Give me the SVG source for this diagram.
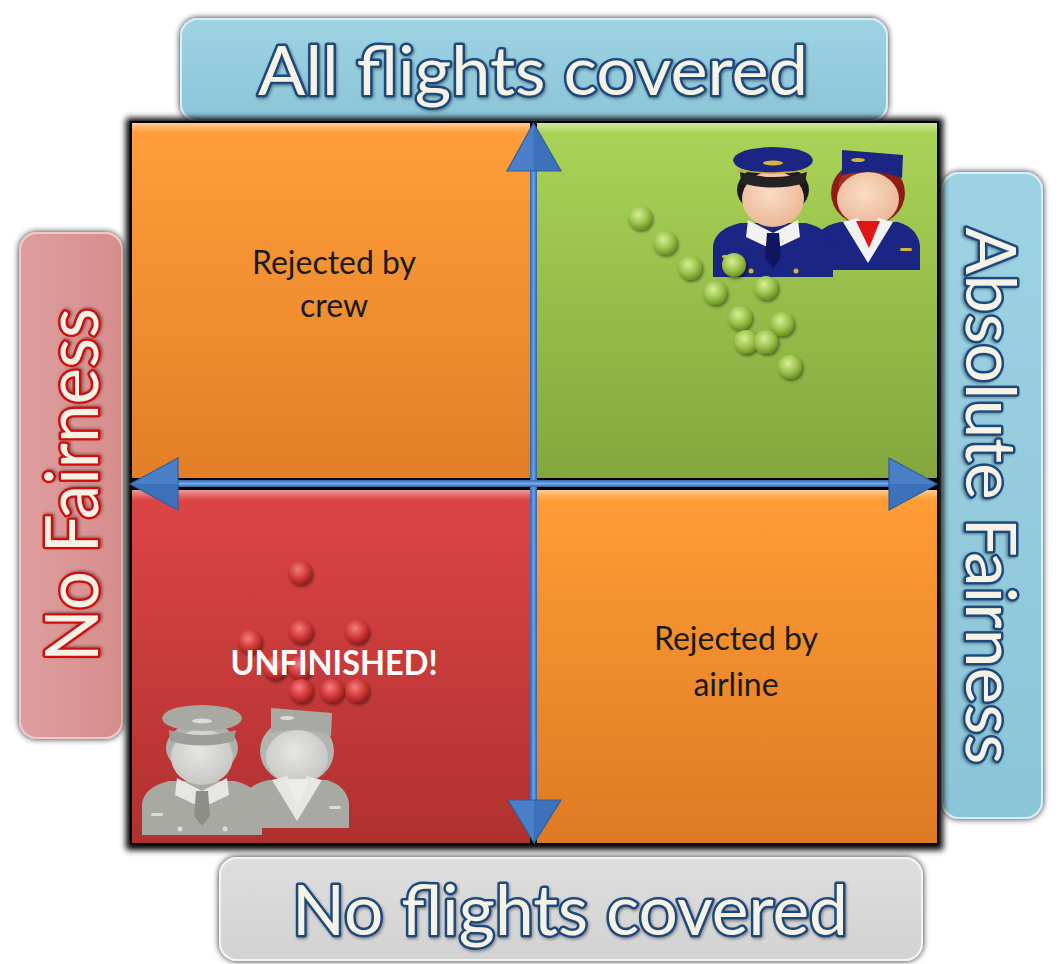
<svg xmlns="http://www.w3.org/2000/svg" width="1063" height="964" viewBox="0 0 1063 964">
<defs>
<style>
.lbl{font-family:Lato,"Open Sans","Liberation Sans",sans-serif;fill:#F6F3E6;stroke-width:5;paint-order:stroke;stroke-linejoin:round}
.blue{stroke:#1F497D}
.redt{stroke:#D01010}
.qt{font-family:Lato,"Open Sans","Liberation Sans",sans-serif;font-size:32px;fill:#1a1a1a;text-anchor:middle}
.unf{font-family:Lato,"Open Sans","Liberation Sans",sans-serif;font-size:35px;font-weight:bold;fill:#ffffff;text-anchor:middle}
.arrow{fill:#4A80C8;stroke:#2E5D9E;stroke-width:1.2}
.ashade{fill:#2F62A8;opacity:0.45}
.gb{fill:url(#gball)}
.rb{fill:url(#rball)}
.navy{fill:#1B2583}
.navyd{fill:#0F1660}
.white{fill:#F2F2F2}
.gold{fill:#D4B43A}
.face{fill:url(#face)}
.gnavy{fill:#A9A9A4}
.gnavyd{fill:#8E8E89}
.gwhite{fill:#E6E6E3}
.ggold{fill:#DCDCD8}
.gface{fill:url(#gface)}
</style>
<linearGradient id="gOrange" x1="0" y1="0" x2="0" y2="1"><stop offset="0" stop-color="#FF9E3A"/><stop offset="1" stop-color="#E27F27"/></linearGradient>
<linearGradient id="gOrange2" x1="0" y1="0" x2="0" y2="1"><stop offset="0" stop-color="#FF9D35"/><stop offset="1" stop-color="#DE7A24"/></linearGradient>
<linearGradient id="gGreen" x1="0" y1="0" x2="0" y2="1"><stop offset="0" stop-color="#AAD457"/><stop offset="1" stop-color="#83A73D"/></linearGradient>
<linearGradient id="gRed" x1="0" y1="0" x2="0" y2="1"><stop offset="0" stop-color="#DE4545"/><stop offset="1" stop-color="#B03030"/></linearGradient>
<linearGradient id="bevel" x1="0" y1="0" x2="0" y2="1"><stop offset="0" stop-color="#ffffff" stop-opacity="0.45"/><stop offset="1" stop-color="#ffffff" stop-opacity="0"/></linearGradient>
<linearGradient id="gBlue" x1="0" y1="0" x2="0" y2="1"><stop offset="0" stop-color="#9DD3E3"/><stop offset="1" stop-color="#8BC5D8"/></linearGradient>
<linearGradient id="gPink" x1="0" y1="0" x2="1" y2="0"><stop offset="0" stop-color="#DE9E9E"/><stop offset="1" stop-color="#D68D8C"/></linearGradient>
<linearGradient id="gGray" x1="0" y1="0" x2="0" y2="1"><stop offset="0" stop-color="#DEDEDE"/><stop offset="1" stop-color="#D2D2D2"/></linearGradient>
<linearGradient id="shaftV" x1="0" y1="0" x2="1" y2="0"><stop offset="0" stop-color="#2F64AD"/><stop offset="0.5" stop-color="#6FA0E0"/><stop offset="1" stop-color="#2F64AD"/></linearGradient>
<linearGradient id="shaftH" x1="0" y1="0" x2="0" y2="1"><stop offset="0" stop-color="#2F64AD"/><stop offset="0.5" stop-color="#7AAAE6"/><stop offset="1" stop-color="#2F64AD"/></linearGradient>
<radialGradient id="gball" cx="0.42" cy="0.35" r="0.65"><stop offset="0" stop-color="#D6EF94"/><stop offset="0.6" stop-color="#9CC24C"/><stop offset="1" stop-color="#6C9224"/></radialGradient>
<radialGradient id="rball" cx="0.42" cy="0.35" r="0.65"><stop offset="0" stop-color="#F47E7E"/><stop offset="0.6" stop-color="#D23A3A"/><stop offset="1" stop-color="#9C1E1E"/></radialGradient>
<radialGradient id="face" cx="0.45" cy="0.4" r="0.65"><stop offset="0" stop-color="#FBDCC6"/><stop offset="1" stop-color="#E9B592"/></radialGradient>
<radialGradient id="gface" cx="0.45" cy="0.4" r="0.65"><stop offset="0" stop-color="#E6E6E4"/><stop offset="1" stop-color="#C4C4C1"/></radialGradient>
<filter id="shadow" x="-10%" y="-10%" width="120%" height="120%"><feDropShadow dx="0" dy="0" stdDeviation="3" flood-color="#000" flood-opacity="0.85"/></filter>
<filter id="blur4" x="-10%" y="-10%" width="120%" height="120%"><feGaussianBlur stdDeviation="3"/></filter>
<filter id="bshadow" x="-50%" y="-50%" width="200%" height="200%"><feDropShadow dx="1.5" dy="2" stdDeviation="1.5" flood-color="#000" flood-opacity="0.45"/></filter>
<filter id="tglow" x="-5%" y="-20%" width="110%" height="140%"><feDropShadow dx="1" dy="1.5" stdDeviation="1.5" flood-color="#000" flood-opacity="0.4"/></filter>
</defs>

<g id="label-top" filter="url(#shadow)">
<rect x="181" y="19" width="706" height="102" rx="17" fill="url(#gBlue)" stroke="#D6EEF5" stroke-width="2"/>
<text class="lbl blue" x="533" y="95" font-size="68" text-anchor="middle" textLength="550" lengthAdjust="spacingAndGlyphs" filter="url(#tglow)">All flights covered</text>
</g>

<g id="label-left" filter="url(#shadow)">
<rect x="20" y="233" width="102" height="505" rx="17" fill="url(#gPink)" stroke="#F0C8C8" stroke-width="2"/>
<text class="lbl redt" x="98" y="485" font-size="74" text-anchor="middle" textLength="354" lengthAdjust="spacingAndGlyphs" transform="rotate(-90 98 485)" filter="url(#tglow)">No Fairness</text>
</g>

<g id="label-right" filter="url(#shadow)">
<rect x="942" y="173" width="100" height="645" rx="17" fill="url(#gBlue)" stroke="#D6EEF5" stroke-width="2"/>
<text class="lbl blue" x="966" y="496" font-size="70" text-anchor="middle" textLength="537" lengthAdjust="spacingAndGlyphs" transform="rotate(90 966 496)" filter="url(#tglow)">Absolute Fairness</text>
</g>

<g id="label-bottom" filter="url(#shadow)">
<rect x="220" y="858" width="702" height="102" rx="17" fill="url(#gGray)" stroke="#F4F4F4" stroke-width="2"/>
<text class="lbl blue" x="570" y="935" font-size="69" text-anchor="middle" textLength="556" lengthAdjust="spacingAndGlyphs" filter="url(#tglow)">No flights covered</text>
</g>

<g id="grid-shadow">
<rect x="126" y="118" width="817" height="732" fill="#000" filter="url(#blur4)"/>
<rect x="130" y="121" width="809" height="724" fill="#000"/>
</g>

<g id="q-top-left">
<rect x="132" y="123" width="398" height="355" fill="url(#gOrange)"/>
<rect x="132" y="123" width="398" height="10" fill="url(#bevel)"/>
<text class="qt" x="334" y="274">Rejected by</text>
<text class="qt" x="334" y="317">crew</text>
</g>

<g id="q-top-right">
<rect x="537" y="123" width="400" height="355" fill="url(#gGreen)"/>
<rect x="537" y="123" width="400" height="10" fill="url(#bevel)"/>
</g>

<g id="q-bottom-left">
<rect x="132" y="490" width="398" height="353" fill="url(#gRed)"/>
<rect x="132" y="490" width="398" height="10" fill="url(#bevel)"/>
</g>

<g id="q-bottom-right">
<rect x="537" y="490" width="400" height="353" fill="url(#gOrange2)"/>
<rect x="537" y="490" width="400" height="10" fill="url(#bevel)"/>
<text class="qt" x="736" y="650">Rejected by</text>
<text class="qt" x="736" y="696">airline</text>
</g>

<g id="crew-color">
<g id="stewardess">
<path class="navy" d="M813,270 L813,244 Q816,227 840,222 L898,222 Q918,228 920,246 L920,270 Z"/>
<rect class="gold" x="900" y="248" width="12" height="3" rx="1.5"/>
<ellipse cx="868" cy="193" rx="37" ry="33" fill="#8E1C12"/>
<path d="M838,185 Q845,162 868,160 Q850,170 846,200 Z" fill="#B0382A" opacity="0.7"/>
<rect x="861" y="215" width="14" height="10" fill="#E9B592"/>
<ellipse class="face" cx="868" cy="199" rx="31" ry="27"/>
<path class="navy" d="M842,150 L903,155 L902,178 Q872,168 842,175 Z"/>
<ellipse class="gold" cx="858" cy="160" rx="7" ry="2"/>
<path class="white" d="M843,222 L858,218 L868,240 L878,218 L893,222 L868,263 Z"/>
<path d="M856,221 L880,221 L869,248 Z" fill="#E01515"/>
</g>
<g id="pilot">
<path class="navy" d="M713,277 L713,246 Q715,229 740,223 L806,223 Q830,229 833,246 L833,277 Z"/>
<rect class="gold" x="722" y="255" width="12" height="3" rx="1.5"/>
<circle class="gold" cx="751" cy="271" r="2.5"/>
<circle class="gold" cx="796" cy="271" r="2.5"/>
<ellipse cx="773" cy="190" rx="36" ry="26" fill="#1A1A1A"/>
<rect x="766" y="215" width="14" height="10" fill="#E9B592"/>
<ellipse class="face" cx="773" cy="199" rx="31" ry="28"/>
<path d="M740,172 Q773,182 807,172 L805,183 Q773,192 741,183 Z" fill="#232323"/>
<path class="navy" d="M733,160 Q736,148 773,147 Q810,148 813,160 Q812,172 773,173 Q734,172 733,160 Z"/>
<path d="M738,170 Q773,176 808,170" fill="none" stroke="#C8A83A" stroke-width="1.5"/>
<ellipse class="gold" cx="773" cy="163" rx="10" ry="2.5"/>
<path class="white" d="M748,220 L773,233 L798,220 L800,237 L781,246 L765,246 L746,237 Z"/>
<path class="navyd" d="M767,233 L779,233 L781,258 L773,268 L765,258 Z"/>
</g>
</g>

<g id="crew-gray" transform="translate(-571,558)">
<path class="gnavy" d="M813,270 L813,244 Q816,227 840,222 L898,222 Q918,228 920,246 L920,270 Z"/>
<rect class="ggold" x="900" y="248" width="12" height="3" rx="1.5"/>
<ellipse cx="868" cy="193" rx="37" ry="33" fill="#B4B4B0"/>
<rect x="861" y="215" width="14" height="10" fill="#C4C4C1"/>
<ellipse class="gface" cx="868" cy="199" rx="31" ry="27"/>
<path class="gnavy" d="M842,150 L903,155 L902,178 Q872,168 842,175 Z"/>
<ellipse class="ggold" cx="858" cy="160" rx="7" ry="2"/>
<path class="gwhite" d="M843,222 L858,218 L868,240 L878,218 L893,222 L868,263 Z"/>
<path d="M856,221 L880,221 L869,248 Z" fill="#ECECEA"/>
<path class="gnavy" d="M713,277 L713,246 Q715,229 740,223 L806,223 Q830,229 833,246 L833,277 Z"/>
<rect class="ggold" x="722" y="255" width="12" height="3" rx="1.5"/>
<circle class="ggold" cx="751" cy="271" r="2.5"/>
<circle class="ggold" cx="796" cy="271" r="2.5"/>
<ellipse cx="773" cy="190" rx="36" ry="26" fill="#B0B0AC"/>
<rect x="766" y="215" width="14" height="10" fill="#C4C4C1"/>
<ellipse class="gface" cx="773" cy="199" rx="31" ry="28"/>
<path d="M740,172 Q773,182 807,172 L805,183 Q773,192 741,183 Z" fill="#9C9C98"/>
<path class="gnavy" d="M733,160 Q736,148 773,147 Q810,148 813,160 Q812,172 773,173 Q734,172 733,160 Z"/>
<ellipse class="ggold" cx="773" cy="163" rx="10" ry="2.5"/>
<path class="gwhite" d="M748,220 L773,233 L798,220 L800,237 L781,246 L765,246 L746,237 Z"/>
<path class="gnavyd" d="M767,233 L779,233 L781,258 L773,268 L765,258 Z"/>
</g>

<g id="green-points" filter="url(#bshadow)">
<circle class="gb" cx="640" cy="218" r="12"/>
<circle class="gb" cx="665" cy="243" r="12"/>
<circle class="gb" cx="690" cy="268" r="12"/>
<circle class="gb" cx="734" cy="265" r="12"/>
<circle class="gb" cx="715" cy="293" r="12"/>
<circle class="gb" cx="766" cy="288" r="12"/>
<circle class="gb" cx="740" cy="318" r="12"/>
<circle class="gb" cx="782" cy="324" r="12"/>
<circle class="gb" cx="746" cy="342" r="12"/>
<circle class="gb" cx="766" cy="342" r="12"/>
<circle class="gb" cx="790" cy="367" r="12"/>
</g>

<g id="red-points" filter="url(#bshadow)">
<circle class="rb" cx="300" cy="573" r="12"/>
<circle class="rb" cx="301" cy="632" r="12"/>
<circle class="rb" cx="357" cy="632" r="12"/>
<circle class="rb" cx="250" cy="642" r="12"/>
<circle class="rb" cx="275" cy="668" r="12"/>
<circle class="rb" cx="300" cy="668" r="12"/>
<circle class="rb" cx="301" cy="691" r="12"/>
<circle class="rb" cx="332" cy="691" r="12"/>
<circle class="rb" cx="357" cy="691" r="12"/>
</g>

<g id="unfinished">
<text class="unf" x="334" y="675" textLength="207" lengthAdjust="spacingAndGlyphs">UNFINISHED!</text>
</g>

<g id="connectors">
<rect x="530" y="165" width="7" height="640" fill="url(#shaftV)"/>
<rect x="172" y="480" width="720" height="7" fill="url(#shaftH)"/>
<polygon class="arrow" points="533.5,123 507,171 561,171"/>
<polygon class="ashade" points="533.5,123 533.5,171 561,171"/>
<polygon class="arrow" points="534,843 508,800 561,800"/>
<polygon class="ashade" points="534,843 534,800 561,800"/>
<polygon class="arrow" points="130,484 178,458 178,510"/>
<polygon class="ashade" points="130,484 178,484 178,510"/>
<polygon class="arrow" points="937,484 889,458 889,510"/>
<polygon class="ashade" points="937,484 889,484 889,510"/>
</g>
</svg>
